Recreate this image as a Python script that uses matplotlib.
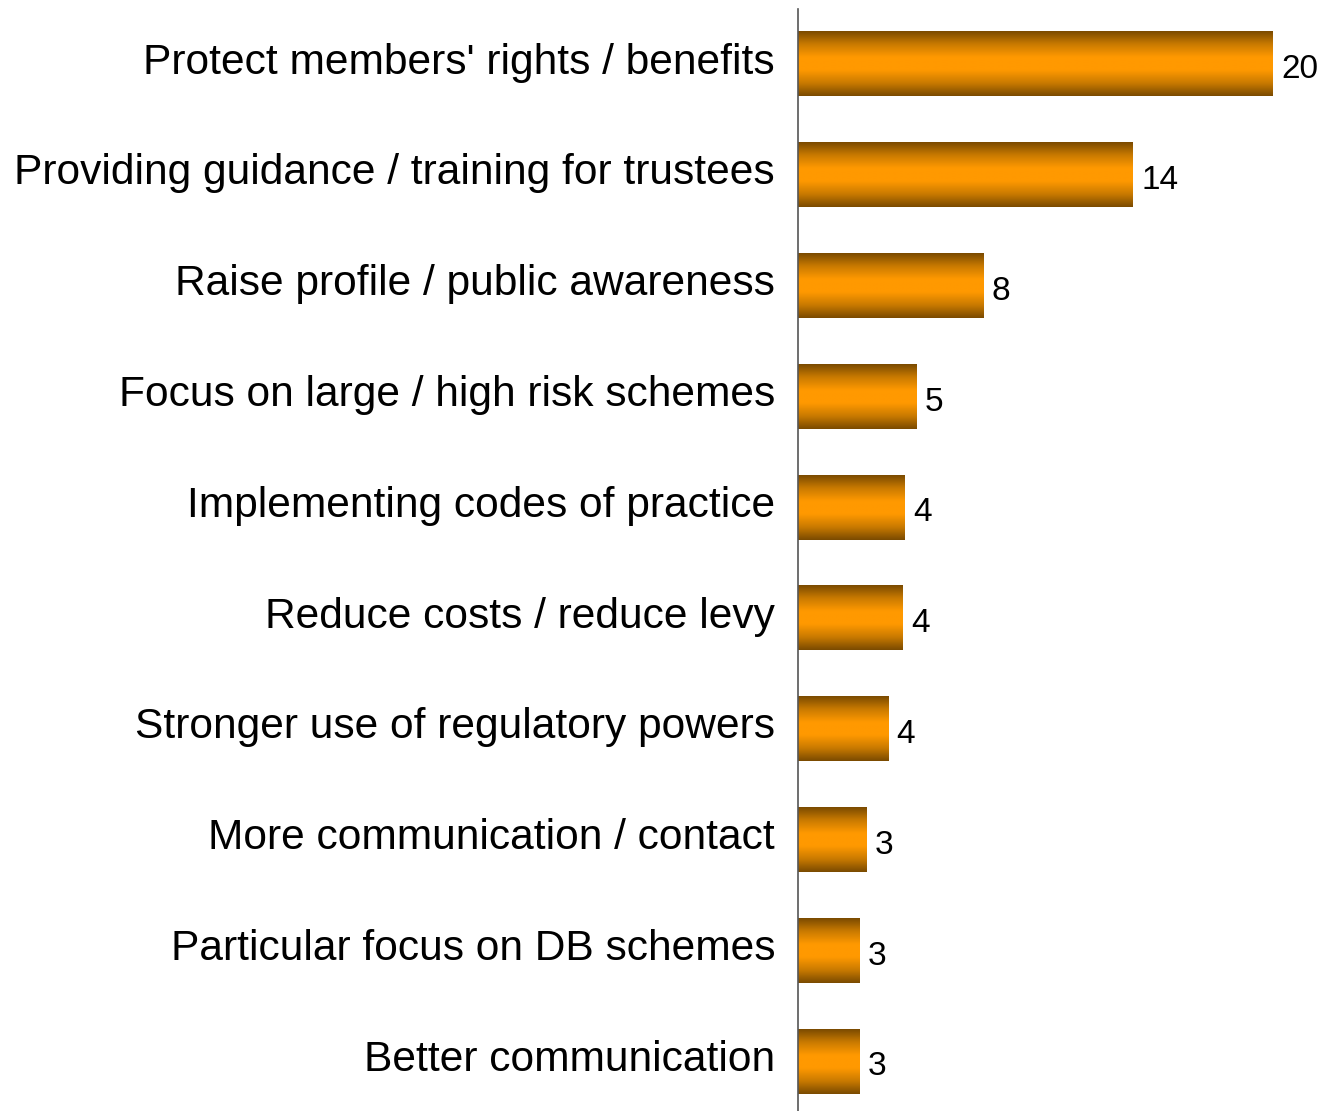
import matplotlib
matplotlib.use('Agg')
import matplotlib.pyplot as plt
import matplotlib.transforms as mtransforms
import numpy as np
from matplotlib.colors import LinearSegmentedColormap

plt.rcParams['font.family'] = ['Liberation Sans', 'DejaVu Sans']

# 数据
categories = [
    "Protect members' rights / benefits",
    "Providing guidance / training for trustees",
    "Raise profile / public awareness",
    "Focus on large / high risk schemes",
    "Implementing codes of practice",
    "Reduce costs / reduce levy",
    "Stronger use of regulatory powers",
    "More communication / contact",
    "Particular focus on DB schemes",
    "Better communication",
]
values = [20, 14.1, 7.8, 5.0, 4.5, 4.4, 3.8, 2.9, 2.6, 2.6]

fig = plt.figure(figsize=(13.24, 11.11), dpi=100)
ax = fig.add_axes([798 / 1324, -0.0052, 1 - 798 / 1324, 1108 / 1111])

y = np.arange(len(categories))
bars = ax.barh(y, values, height=0.58, color='none', edgecolor='none')

# 柱子的竖向渐变：上下深棕，中间橙色
cmap = LinearSegmentedColormap.from_list('bar', ['#7a4a00', '#c97a00', '#ff9900', '#ff9900', '#c97a00', '#7a4a00'])
grad = np.linspace(0, 1, 256).reshape(-1, 1)
for b in bars:
    x0, y0 = b.get_x(), b.get_y()
    ax.imshow(grad, cmap=cmap, aspect='auto', interpolation='bilinear',
              extent=[x0, x0 + b.get_width(), y0 + b.get_height(), y0], zorder=2)

for b, v in zip(bars, values):
    ax.text(b.get_width() + 0.35, b.get_y() + b.get_height() / 2 + 0.05, f'{v:.0f}',
            va='center', ha='left', fontsize=24, color='black')

ax.set_xlim(0, 22.15)
ax.set_ylim(len(categories) - 0.5, -0.5)
ax.set_yticks(y)
ax.set_yticklabels(categories, fontsize=30.6)
ax.tick_params(axis='y', length=0, pad=16.5)
# 类别标签略微上移
shift = mtransforms.ScaledTranslation(0, 0.06, fig.dpi_scale_trans)
for lab in ax.get_yticklabels():
    lab.set_transform(lab.get_transform() + shift)
ax.set_xticks([])
for s in ['top', 'right', 'bottom']:
    ax.spines[s].set_visible(False)
ax.spines['left'].set_color('#555555')
ax.spines['left'].set_linewidth(1.2)

fig.savefig('out.png', dpi=100)
